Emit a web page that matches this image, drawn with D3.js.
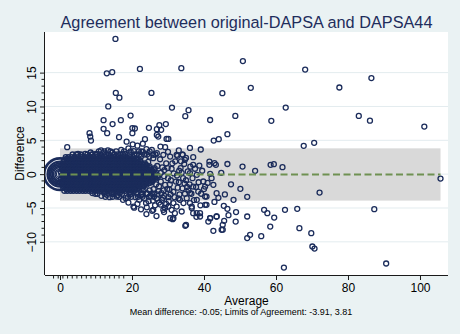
<!DOCTYPE html>
<html><head><meta charset="utf-8">
<script src="https://cdn.jsdelivr.net/npm/d3@7"></script>
<style>
body{margin:0;background:#eaf2f3}
svg{display:block}
text{font-family:"Liberation Sans",Arial,Helvetica,sans-serif}
</style>
</head><body>
<svg id="chart" width="460" height="334"></svg>
<script>
// ---------- data ----------
const titleText = "Agreement between original-DAPSA and DAPSA44";
const xLabel = "Average";
const yLabel = "Difference";
const noteText = "Mean difference: -0.05; Limits of Agreement: -3.91, 3.81";
const meanDiff = -0.05;
const loaLow = -3.91;
const loaHigh = 3.81;
const avgRange = [0, 105.7];
const xTicks = [0, 20, 40, 60, 80, 100];
const yTicks = [-10, -5, 0, 5, 10, 15];
const xMinorTicks = [-1.8,-0.5,0.8,2.1,3.4,4.7,6.0,7.3,8.6,9.9,11.2,12.5,13.8,15.1,16.4,17.7];
const yMinorTicks = [-9,-8,-7,-6,-4,-3,-2,-1,1,2,3,4,6,7,8,9,11,12,13,14];

// frequency weights of tied observations at (0,0)
const originWeights = [40, 25, 19, 14, 10, 7, 4, 2];

// dense core: [difference, list of averages]
const coreRows = [
  [3.35, [10.8,12.3,14.0,15.6,17.8,19.6,21.9,22.6,24.9]],
  [2.9,  [3.5,4.5,5.8,7.6,8.9,10.3,11.1,12.8,13.6,15.1,16.8,17.5,19.4,20.6,21.3,23.4,24.2]],
  [2.5,  [1.6,2.4,3.3,4.1,5.0,5.9,6.7,7.5,8.4,9.2,10.1,10.9,11.8,12.6,13.5,14.4,15.2,16.0,16.9,17.7,18.6,19.5,20.3]],
  [2.275,[1.85,2.7,3.55,4.4,5.25,6.1,6.95,7.8,8.65,9.5,10.35,11.2,12.05,12.9,13.75,14.6,15.45,16.3,17.15,18.0,18.85,19.7,20.55,21.4]],
  [2.05, [1.2,2.0,2.9,3.7,4.6,5.4,6.3,7.1,8.0,8.8,9.7,10.5,11.4,12.2,13.1,13.9,14.8,15.6,16.5,17.3,18.2,19.0,19.9,20.7,21.6,22.3]],
  [1.825,[1.0,1.85,2.7,3.55,4.4,5.25,6.1,6.95,7.8,8.65,9.5,10.35,11.2,12.05,12.9,13.75,14.6,15.45,16.3,17.15,18.0,18.85,19.7,20.55,21.4,22.25]],
  [1.6,  [0.9,1.6,2.4,3.3,4.1,5.0,5.8,6.7,7.5,8.4,9.2,10.1,10.9,11.8,12.6,13.5,14.3,15.2,16.0,16.9,17.7,18.6,19.4,20.3,21.1,22.0,22.8,23.6]],
  [1.375,[1.0,1.85,2.7,3.55,4.4,5.25,6.1,6.95,7.8,8.65,9.5,10.35,11.2,12.05,12.9,13.75,14.6,15.45,16.3,17.15,18.0,18.85,19.7,20.55,21.4,22.25,23.1,23.95]],
  [1.15, [0.7,1.2,2.0,2.9,3.7,4.6,5.4,6.3,7.1,8.0,8.8,9.7,10.5,11.4,12.2,13.1,13.9,14.8,15.6,16.5,17.3,18.2,19.0,19.9,20.7,21.6,22.4,23.3,24.1,24.9]],
  [0.925,[1.0,1.85,2.7,3.55,4.4,5.25,6.1,6.95,7.8,8.65,9.5,10.35,11.2,12.05,12.9,13.75,14.6,15.45,16.3,17.15,18.0,18.85,19.7,20.55,21.4,22.25,23.1,23.95,24.8]],
  [0.7,  [0.5,0.9,1.6,2.4,3.3,4.1,5.0,5.8,6.7,7.5,8.4,9.2,10.1,10.9,11.8,12.6,13.5,14.3,15.2,16.0,16.9,17.7,18.6,19.4,20.3,21.1,22.0,22.8,23.7,24.5,25.4,26.1]],
  [0.475,[1.0,1.85,2.7,3.55,4.4,5.25,6.1,6.95,7.8,8.65,9.5,10.35,11.2,12.05,12.9,13.75,14.6,15.45,16.3,17.15,18.0,18.85,19.7,20.55,21.4,22.25,23.1,23.95,24.8,25.65]],
  [0.25, [0.3,1.2,2.0,2.9,3.7,4.6,5.4,6.3,7.1,8.0,8.8,9.7,10.5,11.4,12.2,13.1,13.9,14.8,15.6,16.5,17.3,18.2,19.0,19.9,20.7,21.6,22.4,23.3,24.1,25.0,25.8,26.7]],
  [0.025,[1.0,1.85,2.7,3.55,4.4,5.25,6.1,6.95,7.8,8.65,9.5,10.35,11.2,12.05,12.9,13.75,14.6,15.45,16.3,17.15,18.0,18.85,19.7,20.55,21.4,22.25,23.1,23.95,24.8,25.65,26.5]],
  [-0.2, [0.4,0.9,1.6,2.4,3.3,4.1,5.0,5.8,6.7,7.5,8.4,9.2,10.1,10.9,11.8,12.6,13.5,14.3,15.2,16.0,16.9,17.7,18.6,19.4,20.3,21.1,22.0,22.8,23.7,24.5,25.4,26.2,27.1]],
  [-0.425,[1.0,1.85,2.7,3.55,4.4,5.25,6.1,6.95,7.8,8.65,9.5,10.35,11.2,12.05,12.9,13.75,14.6,15.45,16.3,17.15,18.0,18.85,19.7,20.55,21.4,22.25,23.1,23.95,24.8,25.65,26.5]],
  [-0.65,[0.3,1.2,2.0,2.9,3.7,4.6,5.4,6.3,7.1,8.0,8.8,9.7,10.5,11.4,12.2,13.1,13.9,14.8,15.6,16.5,17.3,18.2,19.0,19.9,20.7,21.6,22.4,23.3,24.1,25.0,25.8,26.6]],
  [-0.875,[1.0,1.85,2.7,3.55,4.4,5.25,6.1,6.95,7.8,8.65,9.5,10.35,11.2,12.05,12.9,13.75,14.6,15.45,16.3,17.15,18.0,18.85,19.7,20.55,21.4,22.25,23.1,23.95,24.8,25.65]],
  [-1.1, [0.5,0.9,1.6,2.4,3.3,4.1,5.0,5.8,6.7,7.5,8.4,9.2,10.1,10.9,11.8,12.6,13.5,14.3,15.2,16.0,16.9,17.7,18.6,19.4,20.3,21.1,22.0,22.8,23.7,24.5,25.3]],
  [-1.325,[1.0,1.85,2.7,3.55,4.4,5.25,6.1,6.95,7.8,8.65,9.5,10.35,11.2,12.05,12.9,13.75,14.6,15.45,16.3,17.15,18.0,18.85,19.7,20.55,21.4,22.25,23.1,23.95,24.8]],
  [-1.55,[0.7,1.2,2.0,2.9,3.7,4.6,5.4,6.3,7.1,8.0,8.8,9.7,10.5,11.4,12.2,13.1,13.9,14.8,15.6,16.5,17.3,18.2,19.0,19.9,20.7,21.6,22.4,23.3,24.0]],
  [-1.775,[1.0,1.85,2.7,3.55,4.4,5.25,6.1,6.95,7.8,8.65,9.5,10.35,11.2,12.05,12.9,13.75,14.6,15.45,16.3,17.15,18.0,18.85,19.7,20.55,21.4,22.25,23.1]],
  [-2.0, [0.9,1.6,2.4,3.3,4.1,5.0,5.8,6.7,7.5,8.4,9.2,10.1,10.9,11.8,12.6,13.5,14.3,15.2,16.0,16.9,17.7,18.6,19.4,20.3,21.1,22.0,22.9]],
  [-2.225,[1.85,2.7,3.55,4.4,5.25,6.1,6.95,7.8,8.65,9.5,10.35,11.2,12.05,12.9,13.75,14.6,15.45,16.3,17.15,18.0,18.85,19.7,20.55,21.4]],
  [-2.45,[1.2,2.0,2.9,3.7,4.6,5.4,6.3,7.1,8.0,8.8,9.7,10.5,11.4,12.2,13.1,13.9,14.8,15.6,16.5,17.3,18.2,19.0,19.9,20.8]],
  [-2.9, [9.8,12.4,14.9,17.2,19.6,21.5,22.8,24.3,25.5]],
  [-3.35,[12.6,14.6,16.4,18.9,19.8,21.7,22.9,24.8,26.1]]
];

// individual observations: [average, difference]
const scatterPoints = [
  [15.4,19.98],[13.0,14.9],[14.5,15.07],[22.2,15.55],[33.7,15.66],[50.8,16.7],[68.1,15.45],[86.5,14.2],
  [15.5,12.0],[16.5,11.3],[25.4,12.0],[45.1,11.96],[53.0,12.75],[77.6,12.8],
  [13.4,10.0],[31.1,9.84],[35.7,9.45],[34.8,8.57],[62.7,9.84],[41.7,8.0],[48.7,8.6],[58.7,7.87],[83.0,8.6],[86.1,7.9],[101.2,7.03],
  [19.6,8.66],[12.1,7.98],[14.6,7.39],[16.9,7.98],[12.1,6.7],[13.1,6.06],[20.1,6.8],[20.8,6.74],[20.1,6.06],[24.7,6.84],
  [26.9,6.65],[27.6,7.24],[29.4,7.39],[28.1,6.55],[26.9,5.8],[27.3,5.55],[29.6,5.21],[30.1,5.21],[27.9,4.08],[29.2,3.99],[25.5,3.59],[25.9,2.85],
  [8.2,6.06],[8.4,5.55],[8.6,4.96],[16.4,5.46],[23.6,5.17],[42.7,4.96],[44.1,5.17],[46.5,5.9],[67.7,4.18],[70.6,4.62],[36.1,3.88],[39.1,3.64],[34.0,2.9],[32.6,2.7],[2.0,3.99],
  [50.7,1.12],[54.2,0.49],[58.5,1.37],[59.4,1.48],[61.8,1.03],[105.7,-0.65],[50.1,-2.17],[52.0,-3.35],[72.1,-2.72],
  [45.5,-4.68],[46.5,-5.13],[48.9,-5.61],[46.8,-6.06],[45.6,-6.9],[48.8,-7.0],[45.2,-7.49],[44.9,-8.23],[42.6,-8.38],[41.2,-7.0],[41.7,-6.5],[43.5,-6.26],
  [52.0,-6.26],[56.7,-5.27],[57.6,-5.76],[59.5,-6.41],[62.5,-5.27],[65.9,-5.13],[58.4,-7.74],[66.5,-7.98],[69.8,-8.72],[52.0,-9.45],[52.8,-8.97],[55.9,-9.16],
  [70.1,-10.69],[70.7,-10.99],[62.2,-13.8],[87.3,-5.17],[90.6,-13.2],[34.8,-7.64],[41.5,1.37],[42.9,1.62],[43.3,1.37],[41.7,0.04],[45.2,-8.2],
  [10.4,-2.9],[12.2,-2.7],[14.4,-2.9],[16.7,-2.7],[18.25,-3.55],[20.4,-4.79],[23.9,-4.28],[25.6,-5.42],[28.9,-5.6],[31.3,-6.65],[31.9,-5.76],[32.4,-4.79],
  [36.6,-4.79],[37.97,-5.76],[38.9,-6.26],[40.7,-4.53],[40.3,-3.3],[36.1,-2.8],[13.0,-3.05],[15.7,-3.31],[20.6,-4.95],[28.3,-3.8],[29.2,-5.0],[31.0,-5.27],
  [31.5,-6.5],[35.0,-7.5],[37.2,-3.83],[37.9,-6.3],
  [25.9,2.36],[26.9,3.1],[28.7,2.85],[30.6,2.6],[32.4,2.85],[34.1,2.85],[34.7,2.11],[37.0,1.37],[38.7,1.27],[41.5,1.86],[36.1,0.15],[38.0,-0.1],
  [39.8,-1.09],[42.1,-0.59],[42.6,-1.58],[43.5,-2.81],[40.3,-1.83],[37.0,-1.83],[38.4,-2.57],[40.7,-3.31],[35.2,-3.55],[33.3,-3.8],[31.5,-4.28],[30.1,-4.79],
  [28.7,-5.27],[25.9,-5.27],[33.8,-5.52],[37.0,-5.76],[38.9,-5.76],[40.3,-4.53],[36.6,-5.02],[30.6,-6.5],[34.3,-4.28],[36.1,-4.28],[41.7,-6.5],[43.5,-6.26],
  [25,0.5],[26,-0.8],[27,1.2],[27.5,-1.8],[28,0.2],[28.8,-2.4],[29.5,1.6],[30,-0.6],[30.5,-1.5],[31,0.8],[31.5,-2.6],[32,1.9],[32.5,-0.2],[33,-1.2],
  [33.5,0.9],[34,-2.1],[34.5,1.5],[35,-0.9],[35.5,0.4],[36,-1.5],[36.5,-2.9],[37.5,0.8],[38.5,-1.2],[39.5,0.5],[40,-2.2],[29,-3.2],[27,-3.0],[26.5,2.9],
  [30,3.3],[33,3.5],[24,-2.8],[24.5,1.8],[23.5,-1.6],[22.5,2.6],[26,-2.2],[28,-1.1],[29,0.6],[31.8,-3.4],[35,2.4],[37,2.5],[38,-3.8],[39,-4.6],[27.5,-4.2],
  [30.2,-4.0],[24.6,-4.0],[22,-3.8],[21,-3.4],[19.5,-3.0],[23,3.3],[20.5,3.4],[18,3.0],[17,3.6],[14.5,3.2],[12,3.1],[10,3.0],[11.4,3.5],[16,2.9],[19,3.8],
  [21.5,4.2],[24,3.7],[23,4.5],[18.5,4.8],[20.2,4.4],[13.3,3.5],[8.5,3.2],[9,2.9],[7,3.0],[6,2.8],[5,3.0],[22,2.9],
  [9,-2.8],[11.5,-3.2],[13.8,-3.4],[16,-3.1],[17.5,-3.8],[19,-4.2],[21.5,-4.4],[22.5,-5.2],[24,-5.9],[26.8,-6.2],
  [25.5,-1.2],[26.3,0.9],[27.2,-0.4],[28.4,1.0],[29.2,-1.6],[30.8,-0.9],[31.6,0.1],[32.7,-2.0],[33.8,0.2],[34.6,-1.4],[35.7,-2.4],[36.8,-0.6],[37.8,-1.9],
  [33.2,-3.0],[30.1,-3.4],[26.9,-3.6],[25.2,-3.2],[28.2,-2.8],[34.7,-2.9],[36.2,1.1],[24.8,2.6],[27.8,2.2],[31.2,1.6],[33.6,1.9],[39.2,-2.9],[41,-1.3],
  [44,-3.5],[45.8,-3.0],[47.5,-1.5],[44.8,0.2],[46.5,1.5],[48.2,-3.8],[42.9,-4.1],
  [21.2,-2.7],[22.6,-3.1],[23.4,-3.6],[24.9,-2.4],[26.2,-2.9],[27.4,-2.5],[28.6,-3.5],[23.2,-2.3],[25.8,-3.9],[27.9,-4.5],[29.8,-2.2],[30.7,-3.0],
  [26.7,-1.5],[28.9,-0.3],[29.9,0.9],[30.4,-2.3],[32.2,-1.1],[33.1,0.5],[34.2,-0.6],[35.3,-1.9],[32.9,-3.6],[29.5,-4.4],[26.4,-4.6],[24.1,-4.9]
];

// ---------- layout ----------
const W = 460, H = 334;
const plot = {left: 45, right: 448, top: 32, bottom: 275};
const colors = {bg: "#eaf2f3", plot: "#ffffff", grid: "#e3ecef", band: "#d9d9d9",
  marker: "#1b2c5b", mean: "#6f9152", axis: "#1a1a1a", text: "#000000", title: "#1e2d5c"};

const svg = d3.select("#chart");
svg.append("rect").attr("width", W).attr("height", H).attr("fill", colors.bg);

const x = d3.scaleLinear().domain([-4.17, 107.78]).range([plot.left, plot.right]);
const y = d3.scaleLinear().domain([-14.9, 21.0]).range([plot.bottom, plot.top]);
const rScale = d3.scaleSqrt().domain([0, 1]).range([0, 2.5]);

svg.append("rect").attr("x", plot.left).attr("y", plot.top)
  .attr("width", plot.right - plot.left).attr("height", plot.bottom - plot.top)
  .attr("fill", colors.plot);

// gridlines
svg.append("g").selectAll("line").data(yTicks).join("line")
  .attr("x1", plot.left).attr("x2", plot.right)
  .attr("y1", d => y(d)).attr("y2", d => y(d))
  .attr("stroke", colors.grid).attr("stroke-width", 1);

// limits of agreement band
svg.append("rect")
  .attr("x", x(avgRange[0])).attr("width", x(avgRange[1]) - x(avgRange[0]))
  .attr("y", y(loaHigh)).attr("height", y(loaLow) - y(loaHigh))
  .attr("fill", colors.band);

// assemble points
const points = [];
originWeights.forEach(w => points.push({a: 0, d: 0, w}));
coreRows.forEach(([d, avgs]) => avgs.forEach(a => points.push({a, d, w: 1})));
scatterPoints.forEach(([a, d]) => points.push({a, d, w: 1}));

svg.append("clipPath").attr("id", "pc").append("rect")
  .attr("x", plot.left).attr("y", plot.top)
  .attr("width", plot.right - plot.left).attr("height", plot.bottom - plot.top);

svg.append("g").attr("clip-path", "url(#pc)")
  .selectAll("circle").data(points).join("circle")
  .attr("cx", p => x(p.a)).attr("cy", p => y(p.d))
  .attr("r", p => rScale(p.w))
  .attr("fill", "none").attr("stroke", colors.marker)
  .attr("stroke-width", p => p.w > 1 ? 1.2 + (rScale(p.w) - 2.5) * 0.11 : 1.3);

// mean difference line
svg.append("line")
  .attr("x1", x(avgRange[0])).attr("x2", x(avgRange[1]))
  .attr("y1", y(meanDiff)).attr("y2", y(meanDiff))
  .attr("stroke", colors.mean).attr("stroke-width", 1.8)
  .attr("stroke-dasharray", "7,3.5");

// axes
const xAxis = d3.axisBottom(x).tickValues(xTicks).tickSize(5).tickPadding(3).tickFormat(d3.format("d"));
const gx = svg.append("g").attr("transform", `translate(0,${plot.bottom})`).call(xAxis);
gx.select(".domain").attr("d", `M${plot.left},0.5H${plot.right}`).attr("stroke", colors.axis);
gx.selectAll(".tick line").attr("stroke", colors.axis);
gx.selectAll(".tick text").attr("font-size", 12).attr("fill", colors.text)
  .attr("font-family", "Liberation Sans, Arial, sans-serif");
svg.append("g").selectAll("line").data(xMinorTicks).join("line")
  .attr("x1", d => x(d)).attr("x2", d => x(d))
  .attr("y1", plot.bottom).attr("y2", plot.bottom + 3.5)
  .attr("stroke", colors.axis).attr("stroke-width", 1);

const yAxis = d3.axisLeft(y).tickValues(yTicks).tickSize(5).tickFormat(d3.format("d"));
const gy = svg.append("g").attr("transform", `translate(${plot.left},0)`).call(yAxis);
gy.select(".domain").attr("d", `M-0.5,${plot.top}V${plot.bottom}`).attr("stroke", colors.axis);
gy.selectAll(".tick line").attr("stroke", colors.axis);
gy.selectAll(".tick text")
  .attr("font-size", 12).attr("fill", colors.text)
  .attr("font-family", "Liberation Sans, Arial, sans-serif")
  .attr("x", null).attr("dy", null)
  .attr("text-anchor", "middle")
  .attr("transform", "translate(-9.3,0) rotate(-90)");
svg.append("g").selectAll("line").data(yMinorTicks).join("line")
  .attr("x1", plot.left - 3.5).attr("x2", plot.left)
  .attr("y1", d => y(d)).attr("y2", d => y(d))
  .attr("stroke", colors.axis).attr("stroke-width", 1);

// titles
svg.append("text").attr("x", (plot.left + plot.right) / 2).attr("y", 27.5)
  .attr("text-anchor", "middle").attr("font-size", 16.3).attr("fill", colors.title)
  .text(titleText);
svg.append("text").attr("x", (plot.left + plot.right) / 2).attr("y", 305)
  .attr("text-anchor", "middle").attr("font-size", 12).attr("fill", colors.text)
  .text(xLabel);
svg.append("text").attr("transform", `translate(24,${(plot.top + plot.bottom) / 2}) rotate(-90)`)
  .attr("text-anchor", "middle").attr("font-size", 12).attr("fill", colors.text)
  .text(yLabel);
svg.append("text").attr("x", 241).attr("y", 315)
  .attr("text-anchor", "middle").attr("font-size", 9).attr("fill", colors.text)
  .text(noteText);
</script>
</body></html>
